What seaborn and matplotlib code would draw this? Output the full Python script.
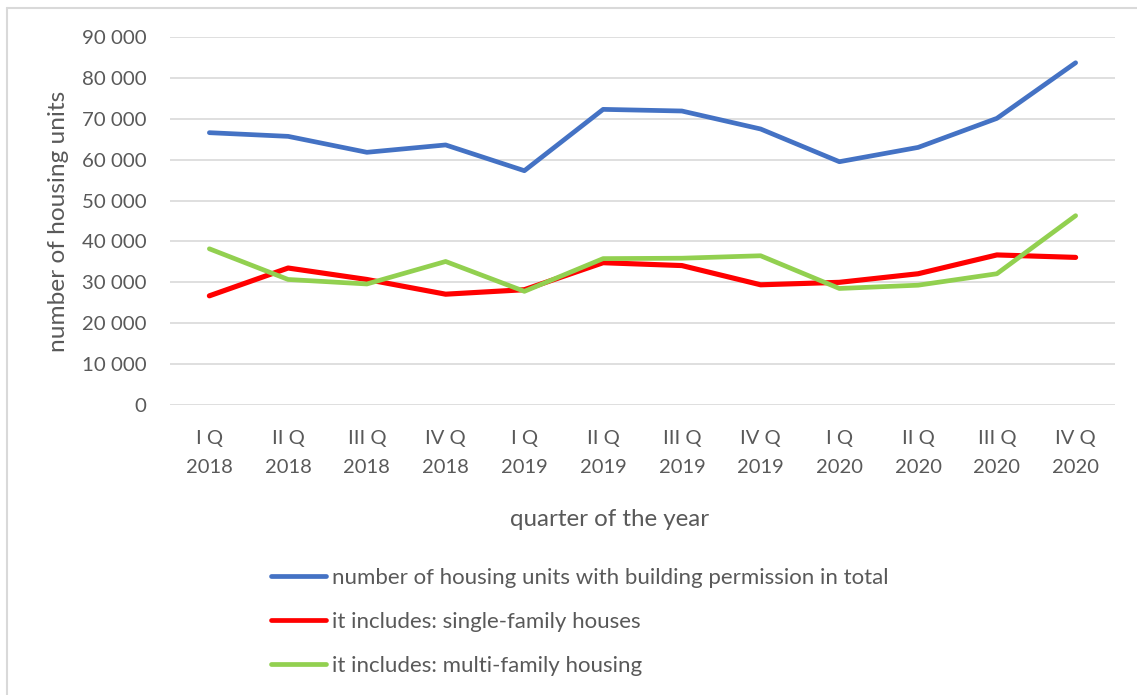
import numpy as np
import pandas as pd
import matplotlib
matplotlib.use("Agg")
import matplotlib.pyplot as plt
from matplotlib.ticker import FuncFormatter, MultipleLocator
from matplotlib.lines import Line2D
import seaborn as sns

quarters = ["I Q\n2018", "II Q\n2018", "III Q\n2018", "IV Q\n2018",
            "I Q\n2019", "II Q\n2019", "III Q\n2019", "IV Q\n2019",
            "I Q\n2020", "II Q\n2020", "III Q\n2020", "IV Q\n2020"]
total = [66600, 65700, 61800, 63600, 57300, 72300, 71900, 67500, 59500, 63000, 70100, 83700]
single = [26700, 33500, 30700, 27100, 28200, 34800, 34100, 29400, 30000, 32100, 36700, 36100]
multi = [38200, 30700, 29600, 35100, 27800, 35800, 35900, 36500, 28500, 29300, 32100, 46300]

names = ["number of housing units with building permission in total",
         "it includes: single-family houses",
         "it includes: multi-family housing"]
colors = ["#4472C4", "#FF0000", "#92D050"]
widths = [3.4, 3.7, 3.4]

df = pd.DataFrame({
    "quarter": quarters * 3,
    "pos": list(range(len(quarters))) * 3,
    "value": total + single + multi,
    "series": [names[0]] * 12 + [names[1]] * 12 + [names[2]] * 12,
})

sns.set_theme(style="white")
plt.rcParams['font.family'] = ['Lato', 'DejaVu Sans']
txt = "#595959"

fig = plt.figure(figsize=(11.37, 6.95), dpi=100)
ax = fig.add_axes([170 / 1137, 1 - 405 / 695, 945 / 1137, 368 / 695])

for name, c, w in zip(names, colors, widths):
    sub = df[df["series"] == name]
    sns.lineplot(data=sub, x="pos", y="value", color=c, linewidth=w,
                 ax=ax, sort=False, solid_capstyle="round", legend=False)

ax.set_xlim(-0.5, len(quarters) - 0.5)
ax.set_ylim(0, 90000)
ax.yaxis.set_major_locator(MultipleLocator(10000))
ax.yaxis.set_major_formatter(FuncFormatter(lambda v, p: f"{v:,.0f}".replace(",", " ")))
ax.set_xticks(range(len(quarters)))
ax.set_xticklabels(quarters, linespacing=1.85)
ax.grid(axis="y", color="#d9d9d9", linewidth=1.2)
ax.set_axisbelow(True)
for s in ax.spines.values():
    s.set_visible(False)
ax.tick_params(axis="y", labelsize=14.7, labelcolor=txt, pad=17, length=0)
ax.tick_params(axis="x", labelsize=14.5, labelcolor=txt, pad=18, length=0)
ax.set_xlabel("")
ax.set_ylabel("")

fig.text(59 / 1137, 1 - 221 / 695, "number of housing units", rotation=90,
         ha="center", va="center", fontsize=17.6, color=txt)
fig.text(610 / 1137, 1 - 519 / 695, "quarter of the year",
         ha="center", va="center", fontsize=17.4, color=txt)

handles = [Line2D([0], [0], color=c, linewidth=3.4, solid_capstyle="round") for c in colors]
fig.legend(handles, names, loc="upper left", bbox_to_anchor=(262 / 1137, 1 - 559 / 695),
           frameon=False, fontsize=16, labelcolor=txt, handlelength=2.5,
           handletextpad=0.27, labelspacing=1.08, borderaxespad=0)

# chart border (top and left edges visible)
fig.add_artist(Line2D([7 / 1137, 7 / 1137], [0, 1 - 8 / 695], color="#d9d9d9", linewidth=1.5))
fig.add_artist(Line2D([7 / 1137, 1], [1 - 8 / 695, 1 - 8 / 695], color="#d9d9d9", linewidth=1.5))

fig.savefig("out.png", dpi=100, facecolor="white")
